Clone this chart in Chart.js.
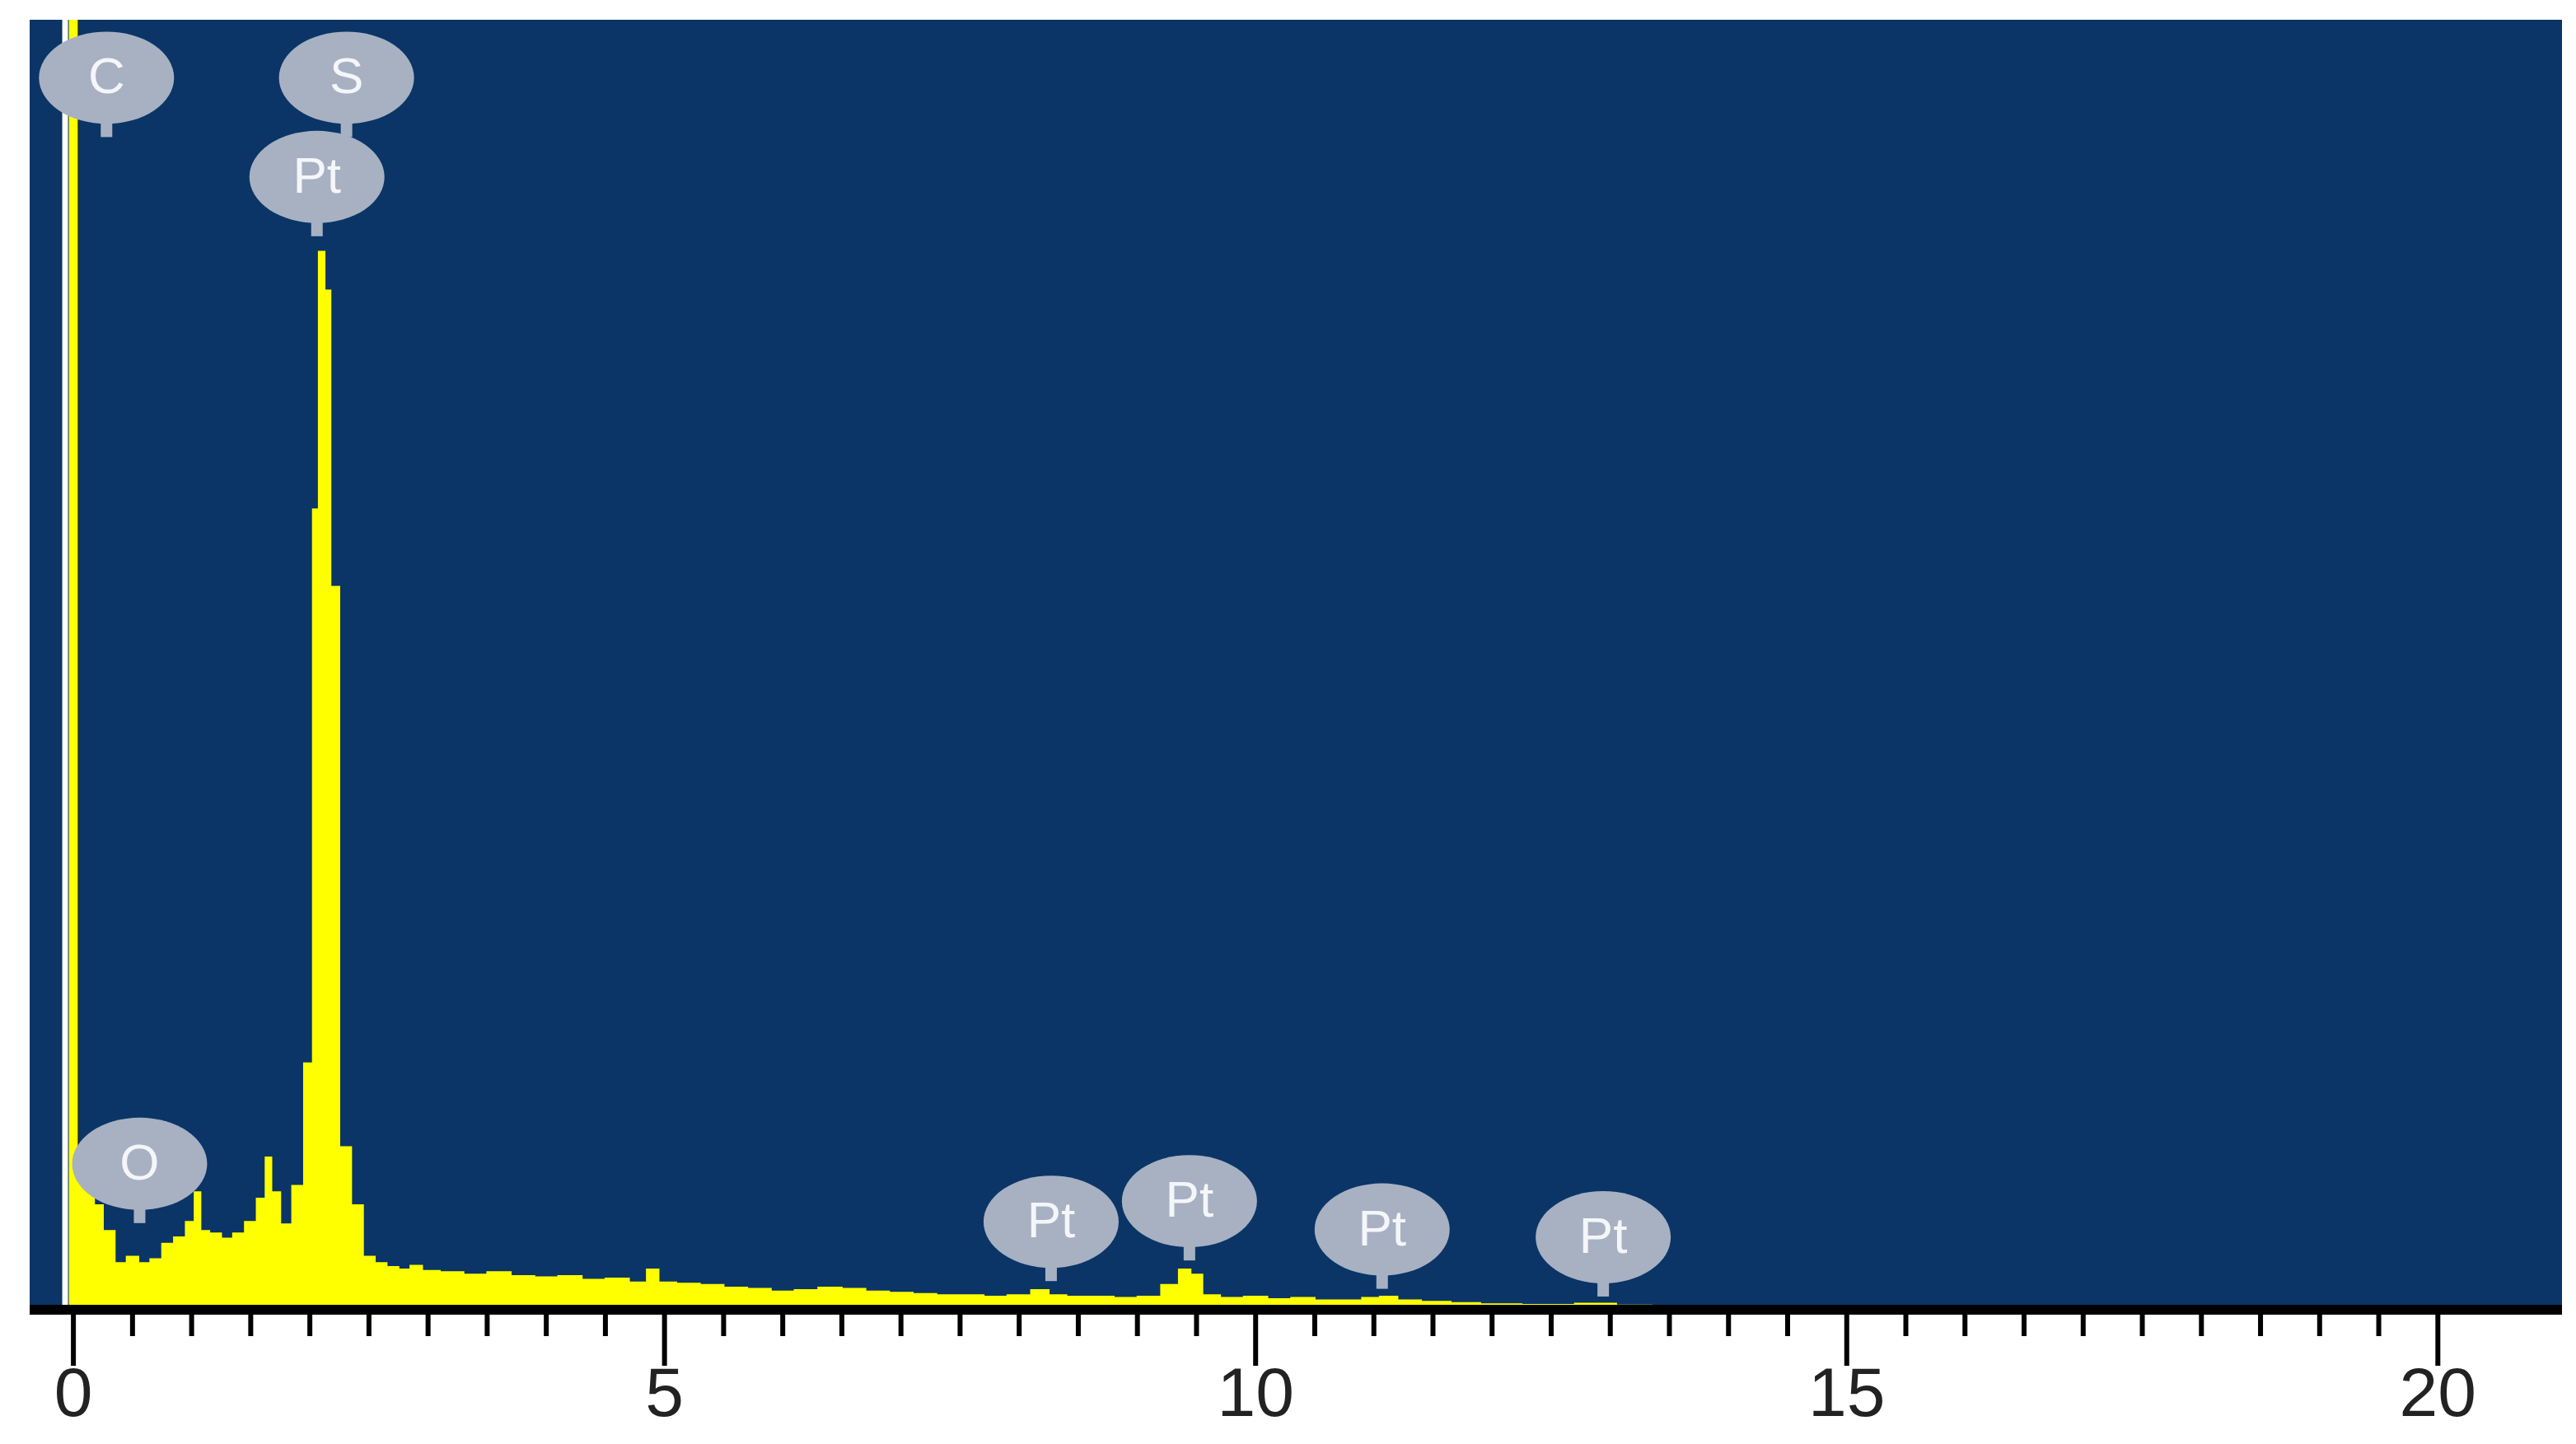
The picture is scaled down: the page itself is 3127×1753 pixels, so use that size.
<!DOCTYPE html>
<html>
<head>
<meta charset="utf-8">
<script src="https://cdn.jsdelivr.net/npm/chart.js@4"></script>
<style>
  html, body { margin: 0; padding: 0; background: #fff; }
  #wrap { width: 3127px; height: 1753px; }
</style>
</head>
<body>
<div id="wrap"><canvas id="c"></canvas></div>
<script>
// EDS spectrum, energy in keV, counts as % of plot height
const energies = [-0.04, 0.1, 0.15, 0.2, 0.3, 0.4, 0.5, 0.6, 0.7, 0.8, 0.9, 1.0, 1.05, 1.1, 1.2, 1.3, 1.4, 1.5, 1.6, 1.65, 1.7, 1.8, 1.9, 2.0, 2.05, 2.1, 2.15, 2.2, 2.3, 2.4, 2.5, 2.6,
  2.7, 2.8, 2.9, 3.0, 3.2, 3.4, 3.6, 3.8, 4.0, 4.2, 4.4, 4.6, 4.8, 4.9, 5.0, 5.2, 5.4, 5.6, 5.8, 6.0, 6.2, 6.4, 6.6, 6.8, 7.0, 7.2, 7.4, 7.6, 7.8, 8.0, 8.2, 8.3, 8.5, 8.7, 8.9, 9.1, 9.3, 9.4, 9.5, 9.6,
  9.8, 10.0, 10.2, 10.4, 10.6, 10.8, 11.0, 11.1, 11.3, 11.5, 11.8, 12.0, 12.5, 12.9, 13.2, 13.5, 13.55];
const counts = [120, 10, 9, 8, 6, 3.5, 4, 3.5, 3.8, 5, 5.5, 6.7, 9, 6, 5.8, 5.4, 5.8, 6.7, 8.5, 11.7, 9, 6.5, 9.5, 19, 62, 82, 79, 56, 12.5, 8, 4, 3.5,
  3.2, 3.0, 3.3, 2.9, 2.8, 2.6, 2.8, 2.5, 2.4, 2.5, 2.2, 2.3, 2.0, 3.0, 2.0, 1.9, 1.8, 1.6, 1.5, 1.3, 1.4, 1.6, 1.5, 1.3, 1.2, 1.1, 1.0, 1.0, 0.9, 1.0, 1.4, 1.0, 0.9, 0.9, 0.8, 0.9, 1.8, 3.0, 2.6, 1.0,
  0.8, 0.9, 0.7, 0.8, 0.6, 0.6, 0.8, 0.9, 0.6, 0.5, 0.4, 0.3, 0.25, 0.35, 0.2, 0.15, 0];

// element labels: name, energy (keV), label centre height (%)
const peakNames = ["C", "S", "Pt", "O", "Pt", "Pt", "Pt", "Pt"];
const peakEnergies = [0.28, 2.31, 2.06, 0.56, 8.27, 9.44, 11.07, 12.94];
const peakHeights = [95.5, 95.5, 87.8, 11.2, 6.7, 8.3, 6.1, 5.5];

const xTicks = [0, 5, 10, 15, 20];

const spectrum = energies.map((e, i) => ({x: e, y: counts[i]}));

const decor = {
    id: "decor",
    beforeDraw(chart) {
        const {ctx, chartArea: a} = chart;
        ctx.save();
        ctx.fillStyle = "#0a3566";
        ctx.fillRect(a.left, a.top, a.right - a.left, a.bottom - a.top);
        ctx.restore();
    },
    afterDraw(chart) {
        const {ctx, chartArea: a} = chart;
        const xs = chart.scales.x, ys = chart.scales.y;
        ctx.save();
        // axis line, ticks and labels
        ctx.fillStyle = "#000";
        ctx.fillRect(a.left, a.bottom - 4, a.right - a.left, 12);
        for (let v = 0; v <= 20.001; v += 0.5) {
            const px = xs.getPixelForValue(v);
            const major = Math.abs(v % 5) < 0.001;
            ctx.fillRect(px - 3, a.bottom, 6, major ? 70 : 34);
        }
        ctx.fillStyle = "#222";
        ctx.font = "84px 'Liberation Sans', Arial, sans-serif";
        ctx.textAlign = "center";
        ctx.textBaseline = "middle";
        xTicks.forEach(v => ctx.fillText(String(v), xs.getPixelForValue(v), a.bottom + 108));
        // element labels
        ctx.font = "62px 'Liberation Sans', Arial, sans-serif";
        peakNames.forEach((n, i) => {
            const px = xs.getPixelForValue(peakEnergies[i]);
            const py = ys.getPixelForValue(peakHeights[i]);
            ctx.fillStyle = "#a7b1c2";
            ctx.fillRect(px - 7, py + 30, 14, 42);
            ctx.beginPath();
            ctx.ellipse(px, py, 82, 56, 0, 0, Math.PI * 2);
            ctx.fill();
            ctx.fillStyle = "#f4f6fa";
            ctx.fillText(n, px, py + 2);
        });
        ctx.restore();
    }
};

new Chart(document.getElementById("c"), {
    type: "line",
    data: {
        datasets: [
            {
                data: spectrum,
                stepped: "middle",
                fill: "origin",
                backgroundColor: "#ffff00",
                borderColor: "#ffff00",
                borderWidth: 2,
                pointRadius: 0,
            },
            {
                data: [{x: -0.07, y: 0}, {x: -0.07, y: 120}],
                borderColor: "#ffffff",
                borderWidth: 7,
                pointRadius: 0,
            },
            {
                data: [{x: 0.03, y: 0}, {x: 0.03, y: 120}],
                borderColor: "#1a1a1a",
                borderWidth: 4,
                pointRadius: 0,
            },
        ]
    },
    options: {
        responsive: true,
        maintainAspectRatio: false,
        animation: false,
        layout: {padding: {left: 36, right: 17, top: 24, bottom: 157}},
        plugins: {legend: {display: false}, tooltip: {enabled: false}},
        scales: {
            x: {
                type: "linear",
                min: -0.37,
                max: 21.05,
                afterBuildTicks: (s) => { s.ticks = xTicks.map(v => ({value: v})); },
                grid: {display: false},
                border: {display: false},
                ticks: {display: false},
            },
            y: {
                display: false,
                min: 0,
                max: 100,
            },
        },
    },
    plugins: [decor],
});
</script>
</body>
</html>
